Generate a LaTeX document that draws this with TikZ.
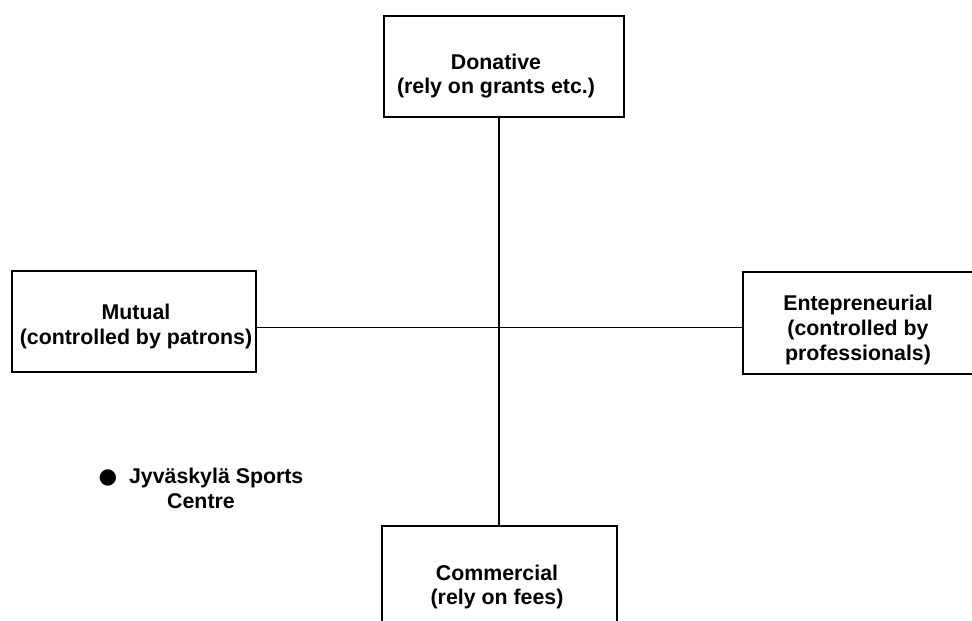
\documentclass[tikz,border=0pt]{standalone}
\usepackage{fontspec}
\setmainfont{Liberation Sans}
\newfontfamily\dotfont{DejaVu Sans}
\usepackage{tikz}
\usetikzlibrary{positioning,calc}

\begin{document}
\begin{tikzpicture}[x=0.75pt,y=-0.75pt,
  typebox/.style={draw,line width=1.3pt,inner sep=0pt},
  typetext/.style={align=center,inner sep=0pt,
    font=\fontsize{16}{18.4}\selectfont\bfseries},
  axis/.style={line width=1pt}]

\useasboundingbox (0,0) rectangle (972,621);
\clip (0,0) rectangle (972,621);

% ---------------- the four organisation types ----------------
\node[typebox,minimum width=180pt,minimum height=75.75pt] (don) at (504,66.5) {};
\node[typetext] (dontxt) at (496,76) {Donative\\(rely on grants etc.)};

\node[typebox,minimum width=183pt,minimum height=75.75pt] (mut) at (134,321.5) {};
\node[typetext] (muttxt) at (136,326.5) {Mutual\\(controlled by patrons)};

\node[typebox,minimum width=172.5pt,minimum height=76.5pt] (ent) at (858,323) {};
\node[typetext] (enttxt) at (858,330) {Entepreneurial\\(controlled by\\professionals)};

\node[typebox,minimum width=176.25pt,minimum height=75.75pt] (com) at (499.5,576.5) {};
\node[typetext] (comtxt) at (497,587) {Commercial\\(rely on fees)};

% axes
\coordinate (hub) at (499,327.5);
\draw[axis,line width=1.2pt] (don.south -| hub) -- (com.north -| hub);
\draw[axis] (mut.east |- hub) -- (ent.west |- hub);

% case
\node[typetext] (jyv) at (201,488.5) {{\dotfont\fontsize{16}{18.4}\selectfont ●}\ \ Jyväskylä Sports\\Centre};

\end{tikzpicture}
\end{document}
